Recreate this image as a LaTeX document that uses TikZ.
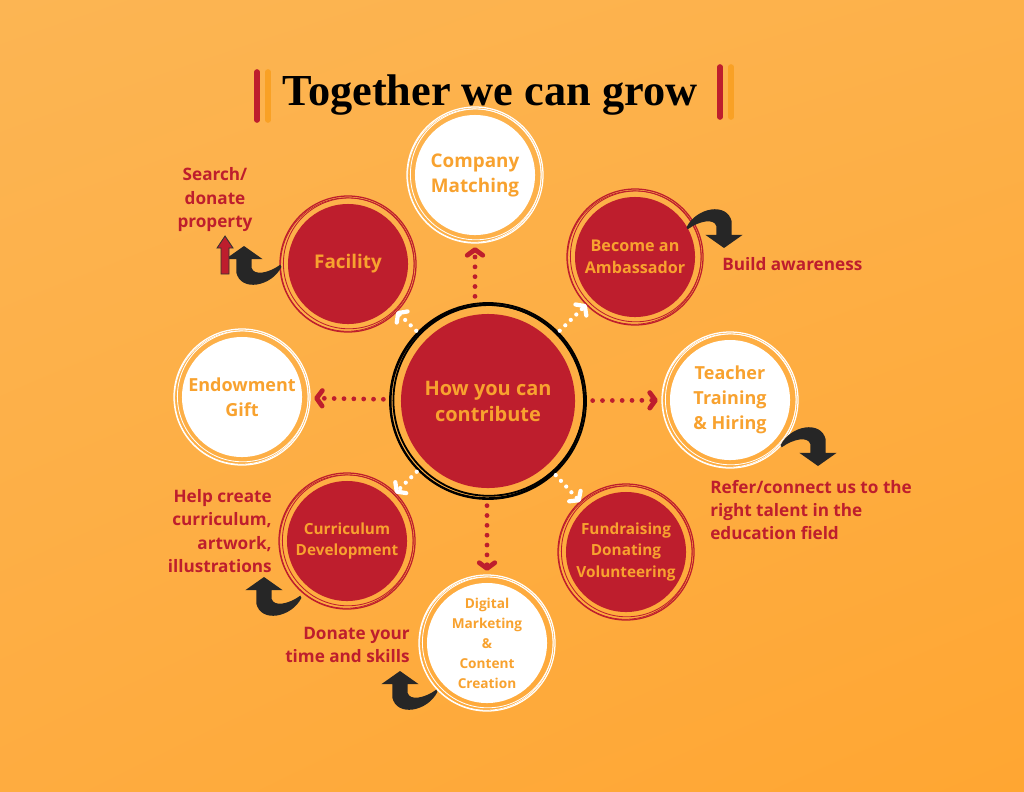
\documentclass[tikz,border=0pt]{standalone}
\usepackage{fontspec}
\setmainfont{Open Sans}
\newfontfamily\titlefont{Liberation Serif}
\usetikzlibrary{arrows.meta,calc,shadings}
\definecolor{crimson}{HTML}{BE1E2D}
\definecolor{amber}{HTML}{F8A22F}
\definecolor{barorange}{HTML}{F9A125}
\definecolor{bgul}{RGB}{252,181,83}
\definecolor{bgur}{RGB}{253,177,74}
\definecolor{bgll}{RGB}{254,172,64}
\definecolor{bglr}{RGB}{255,166,50}
\def\sketchring[#1](#2)(#3){\draw[line width=0.9pt, #1] (#2) circle (#3); \draw[line width=0.6pt, #1] ($(#2)+(0.8,-0.6)$) circle (#3-2.6); \draw[line width=0.5pt, #1] ($(#2)+(-0.7,0.5)$) circle (#3-1.3);}
\def\hookarrow(#1)[#2]{\begin{scope}[shift={(#1)},rotate=#2,scale=1.1] \fill[black!85] (0,0) -- (17,12) -- (7,12) -- (7,20) .. controls (9,27) and (22,25) .. (33,17) -- (34,19) .. controls (25,37) and (-3,42) .. (-7,24) -- (-7,12) -- (-17,12) -- cycle; \end{scope}}

\begin{document}
\begin{tikzpicture}[x=0.025cm, y=-0.025cm,
	bubble/.style={circle, minimum size=3cm, inner sep=0pt, outer sep=0.2cm, align=center, text=amber, font=\bfseries\fontsize{13.4}{17.8}\selectfont},
	redbubble/.style={bubble, fill=crimson},
	whitebubble/.style={bubble, fill=white},
	smalltext/.style={font=\bfseries\fontsize{10.9}{15.6}\selectfont},
	note/.style={text=crimson, inner sep=0pt, font=\bfseries\fontsize{12.2}{16.7}\selectfont},
	bar/.style={line width=4pt, line cap=round},
	dotline/.style={line width=3.4pt, line cap=round, dash pattern=on 0pt off 7pt, -{Straight Barb[round, length=4pt, width=11pt]}, shorten <=4pt, shorten >=3pt},
	reddots/.style={dotline, crimson},
	whitedots/.style={dotline, white, line width=3pt, dash pattern=on 0pt off 5.5pt, shorten <=1pt, shorten >=0pt}]
	%%%%% BACKGROUND %%%%%
	\useasboundingbox (0,0) rectangle (1024,791);
	\shade[upper left=bgul, upper right=bgur, lower left=bgll, lower right=bglr] (0,0) rectangle (1024,791);
	
	%%%%% TITLE %%%%%
	\draw[bar, crimson] (257,72) -- (257,120);
	\draw[bar, barorange] (268,72) -- (268,120);
	\draw[bar, crimson] (720,67) -- (720,117);
	\draw[bar, barorange] (731,67) -- (731,117);
	\node[anchor=base, font=\titlefont\bfseries\fontsize{31.5}{36}\selectfont] (title) at (490,105) {Together we can grow};
	
	%%%%% CIRCLES %%%%%
	\node[redbubble, minimum size=4.35cm, outer sep=0.3cm, font=\bfseries\fontsize{14.2}{18.5}\selectfont] (hub) at (488,401) {How you can\\contribute};
	\node[whitebubble] (company) at (475,175) {Company\\Matching};
	\node[redbubble] (facility) at (348,264) {Facility};
	\node[redbubble, font=\bfseries\fontsize{11.5}{15.6}\selectfont] (ambassador) at (635,257) {Become an\\Ambassador};
	\node[whitebubble, font=\bfseries\fontsize{12.8}{17.8}\selectfont] (endowment) at (242,397) {Endowment\\Gift};
	\node[whitebubble, font=\bfseries\fontsize{12.8}{17.8}\selectfont] (teacher) at (730,400) {Teacher\\Training\\\& Hiring};
	\node[redbubble, smalltext] (curriculum) at (347,541) {Curriculum\\Development};
	\node[redbubble, smalltext] (fundraising) at (626,552) {Fundraising\\Donating\\Volunteering};
	\node[whitebubble, font=\bfseries\fontsize{9.7}{14.2}\selectfont] (digital) at (487,643) {Digital\\Marketing\\\&\\Content\\Creation};
	
	\sketchring[black, line width=1.3pt](hub)(98)
	\foreach \n in {facility,ambassador,curriculum,fundraising} {\sketchring[crimson](\n)(68)}
	\foreach \n in {company,endowment,teacher,digital} {\sketchring[white](\n)(68)}
	
	%%%%% ARROWS %%%%%
	\draw[reddots] (company |- hub.north) -- (company.south);
	\draw[reddots] (digital |- hub.south) -- (digital.north);
	\draw[reddots] (hub) -- (teacher);
	\draw[reddots] (hub) -- (endowment);
	\draw[whitedots] (hub) -- (facility);
	\draw[whitedots] (hub) -- (ambassador);
	\draw[whitedots] (hub) -- (curriculum);
	\draw[whitedots] (hub) -- (fundraising);
	
	%%%%% NOTES %%%%%
	\node[note, align=center] (search) at (215,200) {Search/\\donate\\property};
	\node[note, anchor=west] (awareness) at (722,264) {Build awareness};
	\node[note, anchor=west, align=left] (refer) at (710,510) {Refer/connect us to the\\right talent in the\\education field};
	\node[note, anchor=east, align=right] (help) at (272,531) {Help create\\curriculum,\\artwork,\\illustrations};
	\node[note, anchor=east, align=right] (donate) at (410,645) {Donate your\\time and skills};
	
	\hookarrow(244,246)[0]
	\hookarrow(264,577)[0]
	\hookarrow(400,671)[0]
	\hookarrow(724,248)[180]
	\hookarrow(818,466)[180]
	\filldraw[fill=crimson, draw=black!80, line width=0.6pt] (225,236) -- (233,248) -- (229,248) -- (229,274) -- (221,274) -- (221,248) -- (217,248) -- cycle;
\end{tikzpicture}
\end{document}
